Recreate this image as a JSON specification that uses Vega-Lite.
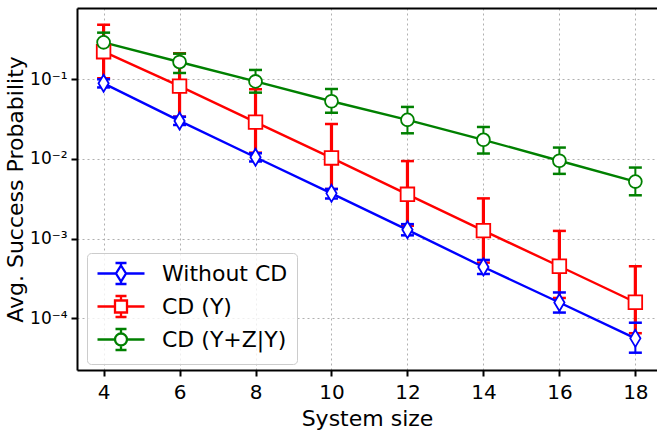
{
  "$schema": "https://vega.github.io/schema/vega-lite/v6.json",
  "width": 580,
  "height": 362,
  "autosize": "none",
  "padding": {"left": 77, "top": 8, "right": 0, "bottom": 61},
  "background": "white",
  "config": {
    "view": {"stroke": null},
    "font": "DejaVu Sans",
    "axis": {
      "domainColor": "black", "domainWidth": 2,
      "tickColor": "black", "tickWidth": 2, "tickSize": 6,
      "labelFont": "DejaVu Sans", "labelFontSize": 20, "labelColor": "black",
      "titleFont": "DejaVu Sans", "titleFontSize": 22, "titleFontWeight": "normal", "titleColor": "black",
      "gridColor": "#b0b0b0", "gridDash": [2, 3], "gridWidth": 1
    },
    "legend": {
      "orient": "none", "legendX": 10, "legendY": 245,
      "padding": 9, "strokeColor": "#cccccc", "fillColor": "rgba(255,255,255,0.8)", "cornerRadius": 4,
      "labelFont": "DejaVu Sans", "labelFontSize": 22, "labelColor": "black", "labelLimit": 300,
      "symbolSize": 400, "symbolStrokeWidth": 2.3, "rowPadding": 2,
      "symbolOffset": 13.5, "labelOffset": 29.5
    }
  },
  "data": {"values": [
    {"series": "Without CD", "size": 4, "y": 0.089, "lo": 0.079, "hi": 0.100},
    {"series": "Without CD", "size": 6, "y": 0.030, "lo": 0.0267, "hi": 0.0338},
    {"series": "Without CD", "size": 8, "y": 0.0105, "lo": 0.0093, "hi": 0.0118},
    {"series": "Without CD", "size": 10, "y": 0.0037, "lo": 0.0032, "hi": 0.0042},
    {"series": "Without CD", "size": 12, "y": 0.00129, "lo": 0.00110, "hi": 0.00152},
    {"series": "Without CD", "size": 14, "y": 0.00044, "lo": 0.00036, "hi": 0.00054},
    {"series": "Without CD", "size": 16, "y": 0.000158, "lo": 0.000118, "hi": 0.000211},
    {"series": "Without CD", "size": 18, "y": 0.000056, "lo": 0.000037, "hi": 0.000088},
    {"series": "CD (Y)", "size": 4, "y": 0.222, "lo": 0.103, "hi": 0.484},
    {"series": "CD (Y)", "size": 6, "y": 0.082, "lo": 0.034, "hi": 0.212},
    {"series": "CD (Y)", "size": 8, "y": 0.029, "lo": 0.012, "hi": 0.075},
    {"series": "CD (Y)", "size": 10, "y": 0.0103, "lo": 0.0042, "hi": 0.0275},
    {"series": "CD (Y)", "size": 12, "y": 0.0036, "lo": 0.00145, "hi": 0.0094},
    {"series": "CD (Y)", "size": 14, "y": 0.00126, "lo": 0.0005, "hi": 0.0032},
    {"series": "CD (Y)", "size": 16, "y": 0.00045, "lo": 0.00018, "hi": 0.00125},
    {"series": "CD (Y)", "size": 18, "y": 0.000159, "lo": 0.000065, "hi": 0.00045},
    {"series": "CD (Y+Z|Y)", "size": 4, "y": 0.291, "lo": 0.22, "hi": 0.385},
    {"series": "CD (Y+Z|Y)", "size": 6, "y": 0.165, "lo": 0.12, "hi": 0.21},
    {"series": "CD (Y+Z|Y)", "size": 8, "y": 0.094, "lo": 0.068, "hi": 0.131},
    {"series": "CD (Y+Z|Y)", "size": 10, "y": 0.053, "lo": 0.038, "hi": 0.0756},
    {"series": "CD (Y+Z|Y)", "size": 12, "y": 0.031, "lo": 0.021, "hi": 0.045},
    {"series": "CD (Y+Z|Y)", "size": 14, "y": 0.0174, "lo": 0.0117, "hi": 0.0252},
    {"series": "CD (Y+Z|Y)", "size": 16, "y": 0.0095, "lo": 0.0065, "hi": 0.0139},
    {"series": "CD (Y+Z|Y)", "size": 18, "y": 0.0052, "lo": 0.0035, "hi": 0.0078}
  ]},
  "layer": [
    {
      "mark": {"type": "rule"},
      "encoding": {
        "x": {"field": "size", "type": "quantitative", "scale": {"domain": [3.3, 18.57], "nice": false, "zero": false},
              "axis": {"values": [4, 6, 8, 10, 12, 14, 16, 18], "title": "System size", "grid": true, "labelPadding": 6, "titlePadding": 6, "labelFlush": false}},
        "y": {"field": "lo", "type": "quantitative", "title": "Avg. Success Probability",
              "scale": {"type": "log", "domain": [2.244e-5, 0.785], "nice": false},
              "axis": {"values": [0.1, 0.01, 0.001, 0.0001], "grid": true, "labelPadding": 4, "titlePadding": 2, "labelFontSize": 17,
                       "labelExpr": "'10' + (datum.value > 0.05 ? '⁻¹' : datum.value > 0.005 ? '⁻²' : datum.value > 0.0005 ? '⁻³' : '⁻⁴')"}},
        "y2": {"field": "hi"},
        "color": {"field": "series", "type": "nominal", "title": null,
                  "scale": {"domain": ["Without CD", "CD (Y)", "CD (Y+Z|Y)"], "range": ["#0000ff", "#ff0000", "#008000"]},
                  "legend": {"encode": {"symbols": {"update": {
                    "shape": {"signal": "datum.value === 'Without CD' ? 'M-2.35,0L-0.5,0M0.5,0L2.35,0M0,-1.05L0,-0.8M0,0.8L0,1.05M-0.55,-1.05L0.55,-1.05M-0.55,1.05L0.55,1.05M0,-0.8L0.5,0L0,0.8L-0.5,0Z' : datum.value === 'CD (Y)' ? 'M-2.35,0L-0.6,0M0.6,0L2.35,0M0,-1.05L0,-0.6M0,0.6L0,1.05M-0.55,-1.05L0.55,-1.05M-0.55,1.05L0.55,1.05M-0.6,-0.6L0.6,-0.6L0.6,0.6L-0.6,0.6Z' : 'M-2.35,0L-0.6,0M0.6,0L2.35,0M0,-1.05L0,-0.6M0,0.6L0,1.05M-0.55,-1.05L0.55,-1.05M-0.55,1.05L0.55,1.05M0.6,0A0.6,0.6,0,1,1,-0.6,0A0.6,0.6,0,1,1,0.6,0Z'"},
                    "size": {"value": 400},
                    "fill": {"value": "white"}, "fillOpacity": {"value": 1}, "opacity": {"value": 1},
                    "strokeWidth": {"value": 2.3}, "stroke": {"scale": "color", "field": "value"}
                  }}}}},
        "strokeWidth": {"condition": {"test": "datum.series === 'CD (Y)'", "value": 3.2}, "value": 2}
      }
    },
    {
      "mark": {"type": "tick", "orient": "horizontal", "size": 13, "thickness": 2.5, "opacity": 1},
      "encoding": {
        "x": {"field": "size", "type": "quantitative", "axis": null},
        "y": {"field": "lo", "type": "quantitative", "title": "Avg. Success Probability"},
        "color": {"field": "series", "type": "nominal", "legend": null}
      }
    },
    {
      "mark": {"type": "tick", "orient": "horizontal", "size": 13, "thickness": 2.5, "opacity": 1},
      "encoding": {
        "x": {"field": "size", "type": "quantitative", "axis": null},
        "y": {"field": "hi", "type": "quantitative", "title": "Avg. Success Probability"},
        "color": {"field": "series", "type": "nominal", "legend": null}
      }
    },
    {
      "mark": {"type": "line", "strokeWidth": 2.4},
      "encoding": {
        "x": {"field": "size", "type": "quantitative",
              "axis": {"orient": "top", "labels": false, "ticks": false, "grid": false, "title": null, "domain": true}},
        "y": {"field": "y", "type": "quantitative", "title": "Avg. Success Probability"},
        "color": {"field": "series", "type": "nominal", "legend": null}
      }
    },
    {
      "mark": {"type": "point", "filled": false, "fill": "white", "fillOpacity": 1, "opacity": 1, "strokeWidth": 1.8},
      "encoding": {
        "x": {"field": "size", "type": "quantitative", "axis": null},
        "y": {"field": "y", "type": "quantitative", "title": "Avg. Success Probability"},
        "color": {"field": "series", "type": "nominal", "legend": null},
        "shape": {"field": "series", "type": "nominal", "legend": null,
                  "scale": {"domain": ["Without CD", "CD (Y)", "CD (Y+Z|Y)"], "range": ["M0,-1L0.6,0L0,1L-0.6,0Z", "square", "circle"]}},
        "size": {"condition": [{"test": "datum.series === 'Without CD'", "value": 289}, {"test": "datum.series === 'CD (Y)'", "value": 185}], "value": 165}
      }
    }
  ],
  "resolve": {"axis": {"x": "independent"}, "legend": {"color": "independent", "shape": "independent"}}
}
